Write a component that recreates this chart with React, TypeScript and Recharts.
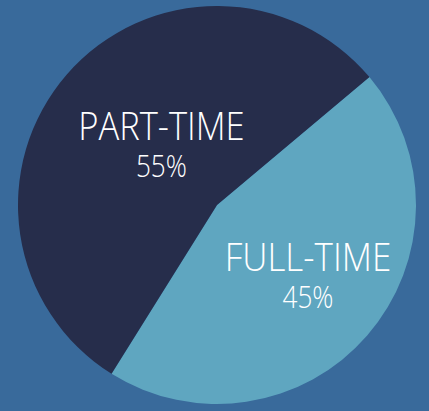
import { PieChart, Pie, Cell } from 'recharts';

const categories = ['FULL-TIME', 'PART-TIME'];
const shares = [45, 55];
const sliceColors = ['#5fa6c0', '#262d4b'];

// label placement relative to the slice mid angle (degrees / fraction of radius)
const labelShift = [
  { angle: 5, radius: 0.565 },
  { angle: -8.5, radius: 0.43 },
];

const chartData = categories.map((name, i) => ({ name, value: shares[i] }));

const RADIAN = Math.PI / 180;

function renderLabel(props: any) {
  const { cx, cy, midAngle, outerRadius, index, name, value } = props;
  const shift = labelShift[index];
  const a = (midAngle + shift.angle) * RADIAN;
  const r = outerRadius * shift.radius;
  const x = cx + r * Math.cos(a);
  const y = cy - r * Math.sin(a);
  const pct = `${value}%`;
  return (
    <text
      x={x}
      y={y}
      fill="#ffffff"
      textAnchor="middle"
      fontFamily="'Open Sans', sans-serif"
      fontWeight={350}
    >
      <tspan x={x} dy={0} fontSize={38} textLength={name.length * 18.5} lengthAdjust="spacingAndGlyphs">
        {name}
      </tspan>
      <tspan x={x} dy={37} fontSize={32} textLength={pct.length * 17} lengthAdjust="spacingAndGlyphs">
        {pct}
      </tspan>
    </text>
  );
}

export default function App() {
  if (typeof document !== 'undefined') document.body.style.margin = '0';
  return (
    <div style={{ width: 429, height: 411, background: '#396a9b' }}>
      <PieChart width={429} height={411} margin={{ top: 0, right: 0, bottom: 0, left: 0 }}>
        <Pie
          data={chartData}
          dataKey="value"
          nameKey="name"
          cx={217}
          cy={205}
          outerRadius={199}
          startAngle={40}
          endAngle={-320}
          stroke="none"
          label={renderLabel}
          labelLine={false}
          isAnimationActive={false}
        >
          {chartData.map((d, i) => (
            <Cell key={d.name} fill={sliceColors[i]} />
          ))}
        </Pie>
      </PieChart>
    </div>
  );
}
